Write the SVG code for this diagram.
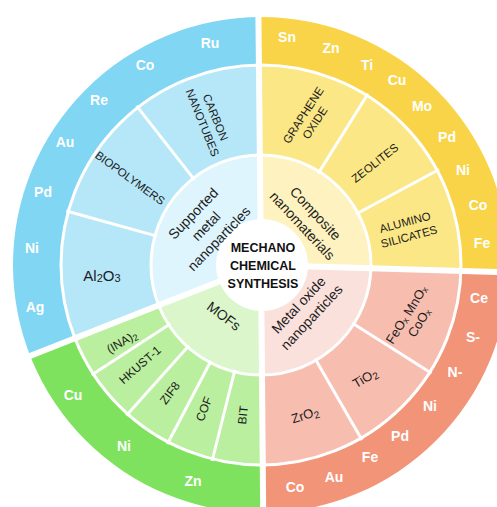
<svg xmlns="http://www.w3.org/2000/svg" width="497" height="507" viewBox="0 0 497 507">
<defs>
<style>
.o{font-family:"Liberation Sans",Arial,sans-serif;font-weight:bold;font-size:14px;fill:#fff;text-anchor:middle;dominant-baseline:central}
.m{font-family:"Liberation Sans",Arial,sans-serif;font-size:11.5px;fill:#1c1c1c;text-anchor:middle;dominant-baseline:central}
.g{font-family:"Liberation Sans",Arial,sans-serif;font-size:12px;fill:#1c1c1c;text-anchor:middle;dominant-baseline:central}
.s{font-family:"Liberation Sans",Arial,sans-serif;font-size:13px;fill:#1c1c1c;text-anchor:middle;dominant-baseline:central}
.i{font-family:"Liberation Sans",Arial,sans-serif;font-size:14px;fill:#1c1c1c;text-anchor:middle;dominant-baseline:central}
.c{font-family:"Liberation Sans",Arial,sans-serif;font-weight:bold;font-size:12.5px;fill:#111;text-anchor:middle;dominant-baseline:central}
.ring{fill:none;stroke:#fff;stroke-width:3}
.sep{stroke:#fff;stroke-width:3}
.gap{stroke:#fff;stroke-width:6}
</style>
<clipPath id="cb"><polygon points="261,265 256.8,-135 -21.8,-17.8 -139,265 -111.2,411.6"/></clipPath>
<clipPath id="cy"><polygon points="261,265 660.8,276.9 543.8,-17.8 256.8,-135"/></clipPath>
<clipPath id="cs"><polygon points="261,265 264.5,665 543.8,547.8 660.8,276.9"/></clipPath>
<clipPath id="cg"><polygon points="261,265 -111.2,411.6 -21.8,547.8 264.5,665"/></clipPath>
</defs>
<rect width="497" height="507" fill="#fff"/>

<g id="q-supported" clip-path="url(#cb)">
<circle cx="261" cy="265" r="248" fill="#80d6f3"/>
<circle cx="261" cy="265" r="200" fill="#b6e7f8"/>
<circle cx="261" cy="265" r="110" fill="#def5fd"/>
</g>
<g id="q-composite" clip-path="url(#cy)">
<circle cx="261" cy="265" r="248" fill="#f9d448"/>
<circle cx="261" cy="265" r="200" fill="#fbe785"/>
<circle cx="261" cy="265" r="110" fill="#fdf2c0"/>
</g>
<g id="q-metaloxide" clip-path="url(#cs)">
<circle cx="261" cy="265" r="248" fill="#f29478"/>
<circle cx="261" cy="265" r="200" fill="#f7beb0"/>
<circle cx="261" cy="265" r="110" fill="#fbe1dc"/>
</g>
<g id="q-mofs" clip-path="url(#cg)">
<circle cx="261" cy="265" r="248" fill="#7fe25f"/>
<circle cx="261" cy="265" r="200" fill="#b9ef9e"/>
<circle cx="261" cy="265" r="110" fill="#daf6ca"/>
</g>

<g id="separators">
<circle class="ring" cx="261" cy="265" r="200"/>
<circle class="ring" cx="261" cy="265" r="110"/>
<line class="sep" x1="194.5" y1="179.9" x2="136.6" y2="105.8"/>
<line class="sep" x1="156.9" y1="236.1" x2="66.4" y2="211.0"/>
<line class="sep" x1="318.2" y1="173.4" x2="368.0" y2="93.7"/>
<line class="sep" x1="356.2" y1="214.0" x2="439.0" y2="169.5"/>
<line class="sep" x1="352.2" y1="322.9" x2="431.5" y2="373.2"/>
<line class="sep" x1="315" y1="358.5" x2="362" y2="439.9"/>
<line class="sep" x1="170.4" y1="323.8" x2="91.6" y2="375.0"/>
<line class="sep" x1="189.0" y1="345.5" x2="126.4" y2="415.6"/>
<line class="sep" x1="211.0" y1="360.7" x2="167.4" y2="444.0"/>
<line class="sep" x1="234.9" y1="369.8" x2="212.1" y2="461.0"/>
<line class="gap" x1="261" y1="265" x2="258.3" y2="5"/>
<line class="gap" x1="261" y1="265" x2="520.9" y2="272.7"/>
<line class="gap" x1="261" y1="265" x2="263.3" y2="525"/>
<line class="gap" x1="261" y1="265" x2="19.1" y2="360.3"/>
</g>

<g id="center">
<circle cx="262" cy="265" r="46" fill="#fff"/>
<text class="c" x="263" y="248">MECHANO</text>
<text class="c" x="263" y="266">CHEMICAL</text>
<text class="c" x="263" y="284">SYNTHESIS</text>
</g>

<g id="labels-supported">
<text class="i" transform="translate(206,226) rotate(-46)"><tspan x="0" y="-18">Supported</tspan><tspan x="0" y="0">metal</tspan><tspan x="0" y="18">nanoparticles</tspan></text>
<text class="m" transform="translate(209,120) rotate(68)"><tspan x="0" y="-7">CARBON</tspan><tspan x="0" y="7">NANOTUBES</tspan></text>
<text class="m" transform="translate(130,178) rotate(36)">BIOPOLYMERS</text>
<text class="i" x="102" y="275" style="font-size:15px">Al<tspan font-size="11" dy="3">2</tspan><tspan dy="-3">O</tspan><tspan font-size="11" dy="3">3</tspan></text>
<text class="o" x="210" y="43">Ru</text>
<text class="o" x="145" y="65">Co</text>
<text class="o" x="99" y="100">Re</text>
<text class="o" x="65" y="142">Au</text>
<text class="o" x="43" y="192">Pd</text>
<text class="o" x="32" y="248">Ni</text>
<text class="o" x="35" y="307">Ag</text>
</g>

<g id="labels-composite">
<text class="i" transform="translate(309,219.5) rotate(47)"><tspan x="0" y="-9">Composite</tspan><tspan x="0" y="9">nanomaterials</tspan></text>
<text class="m" transform="translate(309,119) rotate(-57)"><tspan x="0" y="-7">GRAPHENE</tspan><tspan x="0" y="7">OXIDE</tspan></text>
<text class="m" transform="translate(375,163) rotate(-38)">ZEOLITES</text>
<text class="m" transform="translate(407,229.5) rotate(-15)"><tspan x="0" y="-7.5">ALUMINO</tspan><tspan x="0" y="7.5">SILICATES</tspan></text>
<text class="o" x="287" y="37">Sn</text>
<text class="o" x="331" y="48">Zn</text>
<text class="o" x="367" y="65">Ti</text>
<text class="o" x="397" y="80">Cu</text>
<text class="o" x="422" y="106">Mo</text>
<text class="o" x="447" y="137">Pd</text>
<text class="o" x="463" y="170">Ni</text>
<text class="o" x="478" y="205">Co</text>
<text class="o" x="482" y="243">Fe</text>
</g>

<g id="labels-metaloxide">
<text class="i" transform="translate(305,311) rotate(-47)"><tspan x="0" y="-9">Metal oxide</tspan><tspan x="0" y="9">nanoparticles</tspan></text>
<text class="s" transform="translate(412,318) rotate(-58)"><tspan x="0" y="-7">FeO<tspan font-size="9" dy="3">x</tspan><tspan dy="-3"> MnO</tspan><tspan font-size="9" dy="3">x</tspan></tspan><tspan x="0" y="8">CoO<tspan font-size="9" dy="3">x</tspan></tspan></text>
<text class="s" transform="translate(365,378) rotate(-30)">TiO<tspan font-size="10" dy="3">2</tspan></text>
<text class="s" transform="translate(305,415) rotate(-18)">ZrO<tspan font-size="10" dy="3">2</tspan></text>
<text class="o" x="479" y="298">Ce</text>
<text class="o" x="473" y="337">S-</text>
<text class="o" x="455" y="372">N-</text>
<text class="o" x="430" y="406">Ni</text>
<text class="o" x="400" y="436">Pd</text>
<text class="o" x="370" y="457">Fe</text>
<text class="o" x="334" y="477">Au</text>
<text class="o" x="295" y="487">Co</text>
</g>

<g id="labels-mofs">
<text class="i" transform="translate(224,316) rotate(37)">MOFs</text>
<text class="g" transform="translate(122,342) rotate(-30)">(INA)<tspan font-size="9" dy="3">2</tspan></text>
<text class="g" transform="translate(140,365) rotate(-41)">HKUST-1</text>
<text class="g" transform="translate(170,393) rotate(-53)">ZIF8</text>
<text class="g" transform="translate(204,409) rotate(-69)">COF</text>
<text class="g" transform="translate(243,415) rotate(-84)">BIT</text>
<text class="o" x="73" y="395">Cu</text>
<text class="o" x="124" y="446">Ni</text>
<text class="o" x="193" y="481">Zn</text>
</g>
</svg>
